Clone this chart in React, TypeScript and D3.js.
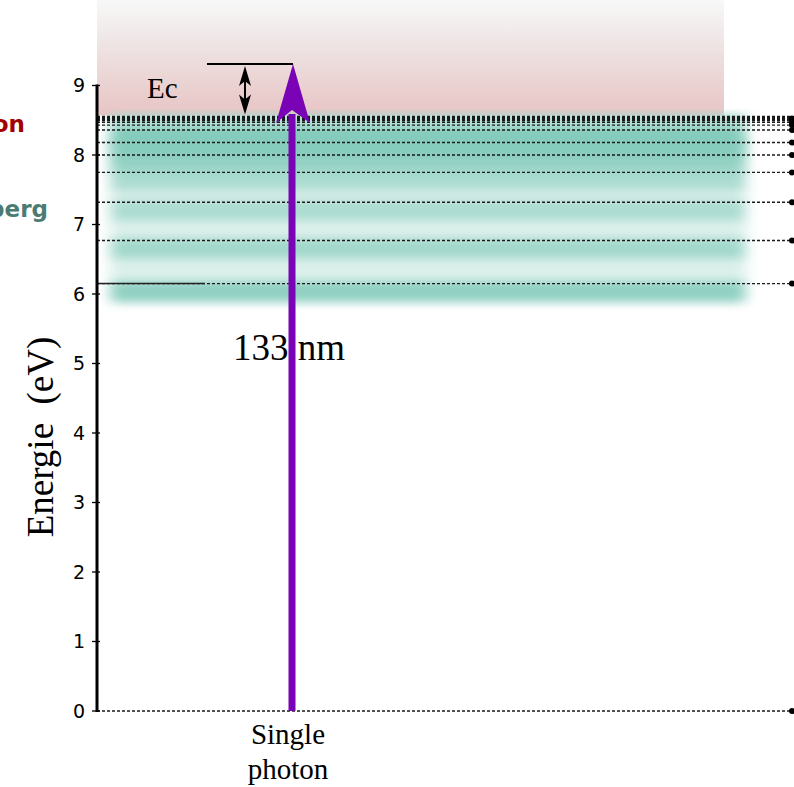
import React from 'react';
import * as d3 from 'd3';

// ---- data ----
const yTicks = [0, 1, 2, 3, 4, 5, 6, 7, 8, 9];
const groundLevels = [0];
const rydbergLevels = [6.15, 6.77, 7.32, 7.75, 8.0, 8.18, 8.36, 8.43];
const convergenceLevels = [8.47, 8.49, 8.5, 8.51, 8.52, 8.525, 8.53, 8.535, 8.54, 8.545, 8.55, 8.555];
const bandLevels = [6.15, 6.77, 7.32, 7.75, 8.0, 8.2, 8.4];
const bandStrength = [0.8, 0.6, 0.5, 0.5, 0.7, 0.85, 0.9];
const ionizationEnergy = 8.57;
const photonEnergy = 9.31;
const regionLabels = ['Ionisation', 'Rydberg'];
const photonLabel = ['Single', 'photon'];
const wavelengthLabel = '133 nm';
const ecLabel = 'Ec';
const axisLabel = 'Energie  (eV)';

const W = 794;
const H = 787;

export default function App() {
  const y = d3.scaleLinear().domain([0, 9]).range([711, 85.5]);
  const axisX = 97;
  const rightX = 792;
  const photonX = 292;
  const ecLeft = 207;
  const ecArrowX = 245;
  const serif = '"Liberation Serif", "Times New Roman", serif';
  const sans = '"DejaVu Sans", sans-serif';
  const purple = '#7a04b5';

  const yIon = y(ionizationEnergy);
  const yPh = y(photonEnergy);
  const allLevels = [...groundLevels, ...rydbergLevels, ...convergenceLevels];
  const topConv = convergenceLevels[convergenceLevels.length - 1];
  const topRyd = rydbergLevels[rydbergLevels.length - 1];

  return (
    <svg
      width={W}
      height={H}
      style={{ position: 'absolute', left: 0, top: 0, background: '#fff', overflow: 'hidden' }}
    >
      <defs>
        <linearGradient id="pink" x1="0" y1="0" x2="0" y2="1">
          <stop offset="0" stopColor="#f8f8f8" />
          <stop offset="0.35" stopColor="#efe6e6" />
          <stop offset="1" stopColor="#e8c4c4" />
        </linearGradient>
        <filter id="blur" x="-10%" y="-100%" width="120%" height="300%">
          <feGaussianBlur stdDeviation="7 5" />
        </filter>
        <filter id="blurBase" x="-10%" y="-20%" width="120%" height="140%">
          <feGaussianBlur stdDeviation="7 5" />
        </filter>
      </defs>

      {/* ionisation continuum */}
      <rect x={axisX} y={0} width={724 - axisX} height={yIon} fill="url(#pink)" />

      {/* Rydberg region shading */}
      <g>
        <rect
          x={110}
          y={yIon + 2}
          width={636}
          height={y(5.88) - yIon - 2}
          fill="#dcf0eb"
          filter="url(#blurBase)"
        />
        {bandLevels.map((lv, i) => (
          <rect
            key={'b' + i}
            x={112}
            y={y(lv) - 2}
            width={632}
            height={20}
            fill="#7cc8b7"
            opacity={bandStrength[i]}
            filter="url(#blur)"
          />
        ))}
        <rect x={110} y={yIon} width={636} height={6} fill="#8fcfc0" filter="url(#blur)" />
      </g>

      {/* energy levels */}
      {allLevels.map((lv, i) => (
        <line
          key={'l' + i}
          x1={axisX}
          x2={rightX}
          y1={y(lv)}
          y2={y(lv)}
          stroke="#1a1a1a"
          strokeWidth={1.3}
          strokeDasharray="3,2"
        />
      ))}
      {[...groundLevels, ...rydbergLevels].map((lv, i) => (
        <circle key={'d' + i} cx={rightX} cy={y(lv)} r={3} fill="#000" />
      ))}
      <rect
        x={rightX - 3}
        y={y(topConv) - 1}
        width={6}
        height={y(topRyd) - y(topConv) + 2}
        rx={3}
        fill="#000"
      />
      {/* lowest Rydberg level solid start */}
      <line x1={axisX} x2={205} y1={y(rydbergLevels[0])} y2={y(rydbergLevels[0])} stroke="#222" strokeWidth={1.5} />

      {/* axis */}
      <line x1={axisX} x2={axisX} y1={y(9) - 1} y2={y(0) + 1} stroke="#000" strokeWidth={3} />
      {yTicks.map((t) => (
        <g key={'t' + t}>
          <line x1={axisX - 5} x2={axisX + 3} y1={y(t)} y2={y(t)} stroke="#000" strokeWidth={1.3} />
          <text
            x={85}
            y={y(t)}
            dy="0.36em"
            textAnchor="end"
            fontFamily={sans}
            fontSize={19}
            fill="#000"
          >
            {t}
          </text>
        </g>
      ))}
      <text
        transform={`translate(53, 437) rotate(-90)`}
        textAnchor="middle"
        fontFamily={serif}
        fontSize={37}
        fill="#000"
        style={{ whiteSpace: 'pre' }}
      >
        {axisLabel}
      </text>

      {/* Ec marker */}
      <line x1={ecLeft} x2={photonX + 1} y1={yPh} y2={yPh} stroke="#000" strokeWidth={2} />
      <line x1={ecArrowX} x2={ecArrowX} y1={yPh + 8} y2={yIon - 8} stroke="#000" strokeWidth={2} />
      <path
        d={`M${ecArrowX},${yPh + 2} L${ecArrowX + 6},${yPh + 22} L${ecArrowX},${yPh + 17} L${ecArrowX - 6},${yPh + 22} Z`}
        fill="#000"
      />
      <path
        d={`M${ecArrowX},${yIon - 1} L${ecArrowX + 6},${yIon - 21} L${ecArrowX},${yIon - 16} L${ecArrowX - 6},${yIon - 21} Z`}
        fill="#000"
      />
      <text x={147} y={98} fontFamily={serif} fontSize={29} fill="#000">
        {ecLabel}
      </text>

      {/* photon arrow */}
      <line x1={photonX} x2={photonX} y1={y(0)} y2={yPh + 50} stroke={purple} strokeWidth={7} />
      <path
        d={`M${photonX + 1},${yPh} L${photonX + 18},${yPh + 59} L${photonX},${yPh + 46} L${photonX - 16},${yPh + 59} Z`}
        fill={purple}
      />
      <text x={233} y={360} fontFamily={serif} fontSize={37} fill="#000">
        {wavelengthLabel}
      </text>
      {photonLabel.map((s, i) => (
        <text
          key={'p' + i}
          x={288}
          y={744 + i * 35}
          textAnchor="middle"
          fontFamily={serif}
          fontSize={29}
          fill="#000"
        >
          {s}
        </text>
      ))}

      {/* region labels (cut at left edge, as in the reference) */}
      <text x={25} y={132} textAnchor="end" fontFamily={sans} fontWeight="bold" fontSize={23} fill="#a30000">
        {regionLabels[0]}
      </text>
      <text x={48} y={217} textAnchor="end" fontFamily={sans} fontWeight="bold" fontSize={23} fill="#4b7b73">
        {regionLabels[1]}
      </text>
    </svg>
  );
}
